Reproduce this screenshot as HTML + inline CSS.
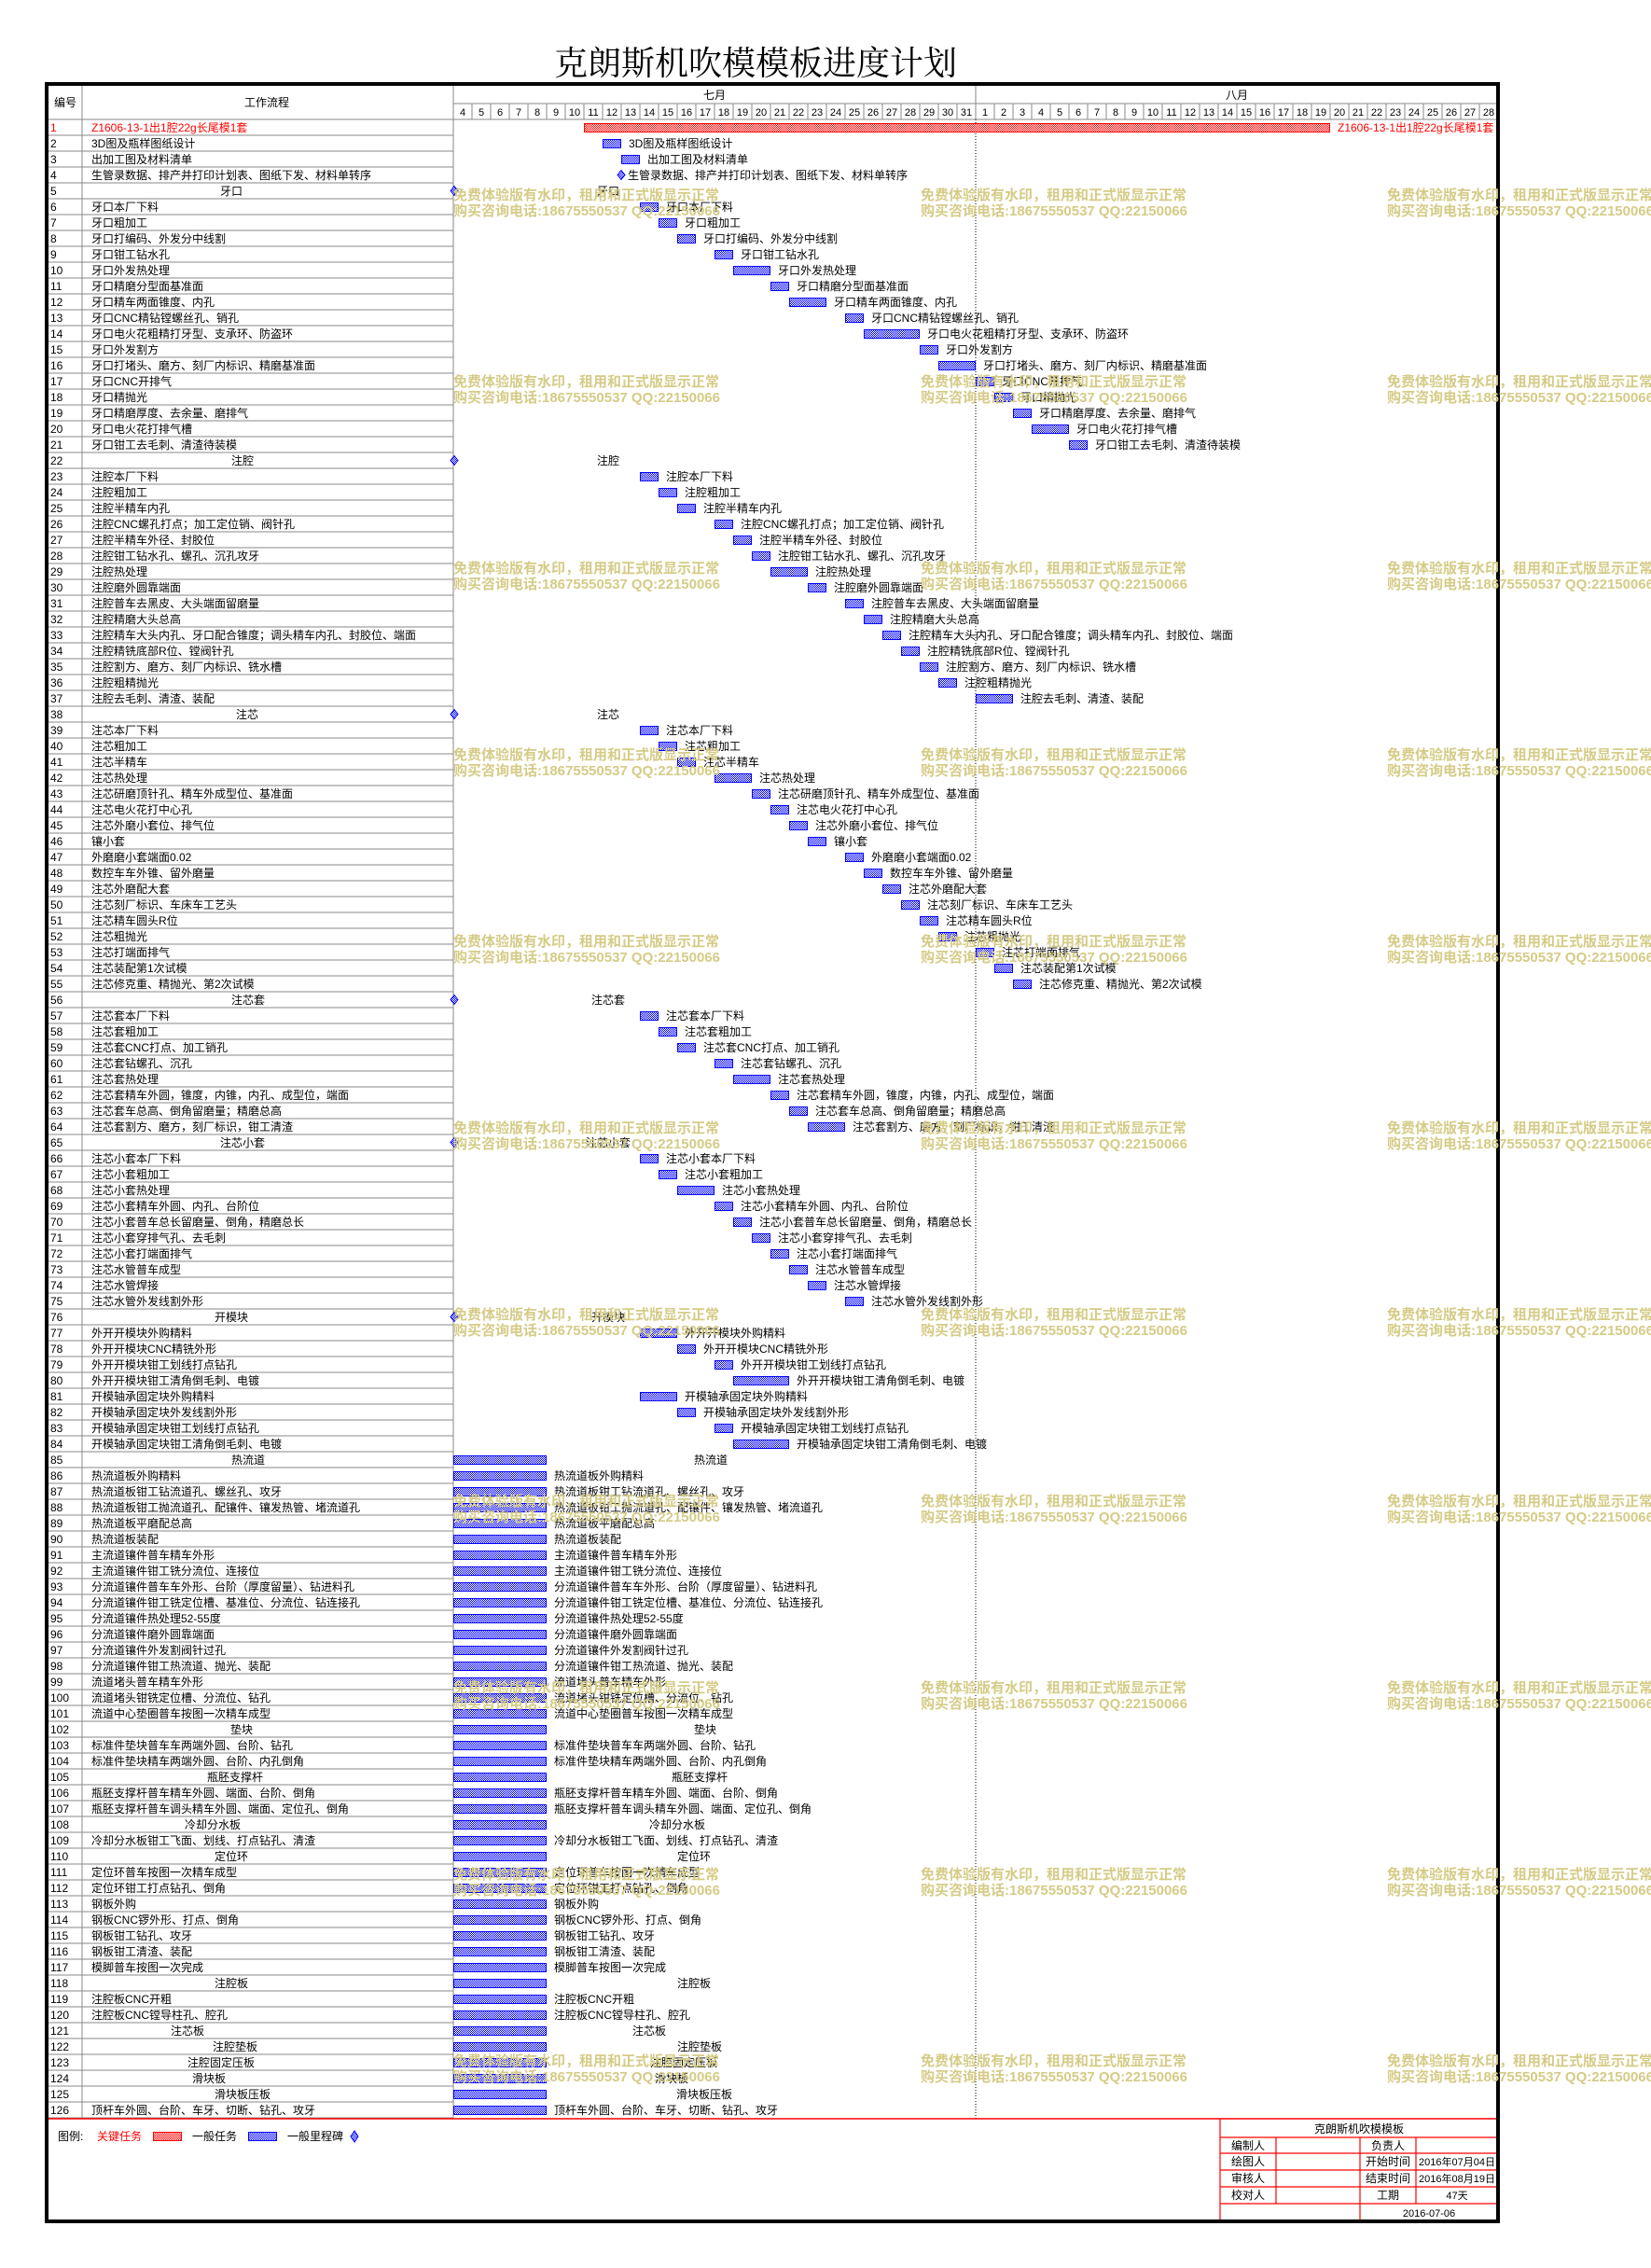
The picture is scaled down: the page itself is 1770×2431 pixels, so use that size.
<!DOCTYPE html>
<html><head><meta charset="utf-8">
<style>
html,body{margin:0;padding:0;background:#fff;}
svg{display:block;}
text{font-family:"Liberation Sans","Noto Sans CJK SC",sans-serif;}
</style></head>
<body>
<svg id="chart" width="1770" height="2431" viewBox="0 0 1770 2431" xmlns="http://www.w3.org/2000/svg">
<defs>
<pattern id="pb" width="2" height="2" patternUnits="userSpaceOnUse"><rect width="2" height="2" fill="#fff"/><rect width="1" height="1" fill="#0000ff"/><rect x="1" y="1" width="1" height="1" fill="#0000ff"/></pattern>
<pattern id="pr" width="2" height="2" patternUnits="userSpaceOnUse"><rect width="2" height="2" fill="#fff"/><rect width="1" height="1" fill="#ff0000"/><rect x="1" y="1" width="1" height="1" fill="#ff0000"/></pattern>
</defs>
<text x="810" y="80" text-anchor="middle" font-size="36" style="font-family:'Liberation Serif','Noto Serif CJK SC',serif">克朗斯机吹模模板进度计划</text>
<g id="g"></g>
</svg>
<script>
const taskNames = ["Z1606-13-1出1腔22g长尾模1套","3D图及瓶样图纸设计","出加工图及材料清单","生管录数据、排产并打印计划表、图纸下发、材料单转序","牙口","牙口本厂下料","牙口粗加工","牙口打编码、外发分中线割","牙口钳工钻水孔","牙口外发热处理","牙口精磨分型面基准面","牙口精车两面锥度、内孔","牙口CNC精钻镗螺丝孔、销孔","牙口电火花粗精打牙型、支承环、防盗环","牙口外发割方","牙口打堵头、磨方、刻厂内标识、精磨基准面","牙口CNC开排气","牙口精抛光","牙口精磨厚度、去余量、磨排气","牙口电火花打排气槽","牙口钳工去毛刺、清渣待装模","注腔","注腔本厂下料","注腔粗加工","注腔半精车内孔","注腔CNC螺孔打点；加工定位销、阀针孔","注腔半精车外径、封胶位","注腔钳工钻水孔、螺孔、沉孔攻牙","注腔热处理","注腔磨外圆靠端面","注腔普车去黑皮、大头端面留磨量","注腔精磨大头总高","注腔精车大头内孔、牙口配合锥度；调头精车内孔、封胶位、端面","注腔精铣底部R位、镗阀针孔","注腔割方、磨方、刻厂内标识、铣水槽","注腔粗精抛光","注腔去毛刺、清渣、装配","注芯","注芯本厂下料","注芯粗加工","注芯半精车","注芯热处理","注芯研磨顶针孔、精车外成型位、基准面","注芯电火花打中心孔","注芯外磨小套位、排气位","镶小套","外磨磨小套端面0.02","数控车车外锥、留外磨量","注芯外磨配大套","注芯刻厂标识、车床车工艺头","注芯精车圆头R位","注芯粗抛光","注芯打端面排气","注芯装配第1次试模","注芯修克重、精抛光、第2次试模","注芯套","注芯套本厂下料","注芯套粗加工","注芯套CNC打点、加工销孔","注芯套钻螺孔、沉孔","注芯套热处理","注芯套精车外圆，锥度，内锥，内孔、成型位，端面","注芯套车总高、倒角留磨量；精磨总高","注芯套割方、磨方，刻厂标识，钳工清渣","注芯小套","注芯小套本厂下料","注芯小套粗加工","注芯小套热处理","注芯小套精车外圆、内孔、台阶位","注芯小套普车总长留磨量、倒角，精磨总长","注芯小套穿排气孔、去毛刺","注芯小套打端面排气","注芯水管普车成型","注芯水管焊接","注芯水管外发线割外形","开模块","外开开模块外购精料","外开开模块CNC精铣外形","外开开模块钳工划线打点钻孔","外开开模块钳工清角倒毛刺、电镀","开模轴承固定块外购精料","开模轴承固定块外发线割外形","开模轴承固定块钳工划线打点钻孔","开模轴承固定块钳工清角倒毛刺、电镀","热流道","热流道板外购精料","热流道板钳工钻流道孔、螺丝孔、攻牙","热流道板钳工抛流道孔、配镶件、镶发热管、堵流道孔","热流道板平磨配总高","热流道板装配","主流道镶件普车精车外形","主流道镶件钳工铣分流位、连接位","分流道镶件普车车外形、台阶（厚度留量）、钻进料孔","分流道镶件钳工铣定位槽、基准位、分流位、钻连接孔","分流道镶件热处理52-55度","分流道镶件磨外圆靠端面","分流道镶件外发割阀针过孔","分流道镶件钳工热流道、抛光、装配","流道堵头普车精车外形","流道堵头钳铣定位槽、分流位、钻孔","流道中心垫圈普车按图一次精车成型","垫块","标准件垫块普车车两端外圆、台阶、钻孔","标准件垫块精车两端外圆、台阶、内孔倒角","瓶胚支撑杆","瓶胚支撑杆普车精车外圆、端面、台阶、倒角","瓶胚支撑杆普车调头精车外圆、端面、定位孔、倒角","冷却分水板","冷却分水板钳工飞面、划线、打点钻孔、清渣","定位环","定位环普车按图一次精车成型","定位环钳工打点钻孔、倒角","钢板外购","钢板CNC锣外形、打点、倒角","钢板钳工钻孔、攻牙","钢板钳工清渣、装配","模脚普车按图一次完成","注腔板","注腔板CNC开粗","注腔板CNC镗导柱孔、腔孔","注芯板","注腔垫板","注腔固定压板","滑块板","滑块板压板","顶杆车外圆、台阶、车牙、切断、钻孔、攻牙"];
// start day index (0 = July 4) and duration in days
const taskStarts = [7,8,9,9,0,10,11,12,14,15,17,18,21,22,25,26,28,29,30,31,33,0,10,11,12,14,15,16,17,19,21,22,23,24,25,26,28,0,10,11,12,14,16,17,18,19,21,22,23,24,25,26,28,29,30,0,10,11,12,14,15,17,18,19,0,10,11,12,14,15,16,17,18,19,21,0,10,12,14,15,10,12,14,15,0,0,0,0,0,0,0,0,0,0,0,0,0,0,0,0,0,0,0,0,0,0,0,0,0,0,0,0,0,0,0,0,0,0,0,0,0,0,0,0,0,0];
const taskDurations = [40,1,1,0,0,1,1,1,1,2,1,2,1,3,1,2,1,1,1,2,1,0,1,1,1,1,1,1,2,1,1,1,1,1,1,1,2,0,1,1,1,2,1,1,1,1,1,1,1,1,1,1,1,1,1,0,1,1,1,1,2,1,1,2,0,1,1,2,1,1,1,1,1,1,1,0,2,1,1,3,2,1,1,3,5,5,5,5,5,5,5,5,5,5,5,5,5,5,5,5,5,5,5,5,5,5,5,5,5,5,5,5,5,5,5,5,5,5,5,5,5,5,5,5,5,5];
const criticalRows = [1];
const labelledMilestoneRows = [4];
const sectionMilestoneRows = [5,22,38,56,65,76];
const sectionBarRows = [85,102,105,108,110,118,121,122,123,124,125];
const julyDays = [4,5,6,7,8,9,10,11,12,13,14,15,16,17,18,19,20,21,22,23,24,25,26,27,28,29,30,31];
const augDays = [1,2,3,4,5,6,7,8,9,10,11,12,13,14,15,16,17,18,19,20,21,22,23,24,25,26,27,28];
const monthLabels = ["七月","八月"];
const leftCentre = {5:248,22:260,38:265,56:266,65:260,76:248,85:266,102:259,105:252,108:228,110:248,118:248,121:201,122:252,123:237,124:224,125:260};
const ganttCentre = {85:762,102:756,105:750,108:726,110:744,118:744,121:696,122:750,123:733,124:720,125:755};

const NS="http://www.w3.org/2000/svg";
const G=document.getElementById('g');
const X0=486, DAY=20, Y0=128, RH=17;
const xs=d=>X0+d*DAY;
const ys=i=>Y0+i*RH;
function el(tag,a,parent){const e=document.createElementNS(NS,tag);for(const k in a)e.setAttribute(k,a[k]);(parent||G).appendChild(e);return e;}
function tx(x,y,s,a){const e=el('text',Object.assign({x:x,y:y,'font-size':12,fill:'#000'},a||{}));e.textContent=s;return e;}
function kindOf(r){
  if(criticalRows.includes(r))return 'c';
  if(labelledMilestoneRows.includes(r))return 'm';
  if(sectionMilestoneRows.includes(r))return 's';
  if(sectionBarRows.includes(r))return 'h';
  return 't';
}

let e;
e=tx(70,114,"编号",{'text-anchor':'middle'});


e=tx(286,114,"工作流程",{'text-anchor':'middle'});


el('line',{x1:X0,y1:111,x2:1606,y2:111,stroke:'#888'});
el('line',{x1:50,y1:128,x2:1606,y2:128,stroke:'#888'});
el('line',{x1:88,y1:90,x2:88,y2:2271,stroke:'#888'});
el('line',{x1:X0,y1:90,x2:X0,y2:2271,stroke:'#888'});
monthLabels.forEach((m,k)=>{
  e=tx(xs(k*28+14),106,m,{'text-anchor':'middle'});
  
  
});
el('line',{x1:xs(28),y1:90,x2:xs(28),y2:111,stroke:'#888'});
const allDays=julyDays.concat(augDays);
allDays.forEach((d,k)=>{
  el('line',{x1:xs(k+1),y1:111,x2:xs(k+1),y2:128,stroke:'#888'});
  e=tx(xs(k)+DAY/2,124,String(d),{'text-anchor':'middle','font-size':11});
  
  
});
el('line',{x1:xs(28),y1:128,x2:xs(28),y2:2271,stroke:'#000','stroke-dasharray':'1,2'});

taskNames.forEach((name,i)=>{
  const r=i+1, y=ys(i), k=kindOf(r), s=taskStarts[i], d=taskDurations[i];
  el('line',{x1:50,y1:y+RH,x2:X0,y2:y+RH,stroke:'#888'});
  e=tx(54,y+13,String(r),{fill:k==='c'?'#f00':'#000'});
  
  
  if(leftCentre[r]!==undefined){
    e=tx(leftCentre[r],y+13,name,{'text-anchor':'middle'});
  } else {
    e=tx(98,y+13,name,{fill:k==='c'?'#f00':'#000'});
  }
  
  
  if(k==='c'||k==='t'||k==='h'){
    const b=el('rect',{x:xs(s)+0.5,y:y+4.5,width:d*DAY-1,height:9,fill:k==='c'?'url(#pr)':'url(#pb)',stroke:k==='c'?'#f00':'#00f','stroke-width':1});
    
    
    if(k==='h'){
      e=tx(ganttCentre[r],y+13,name,{'text-anchor':'middle'});
    } else {
      e=tx(xs(s+d)+8,y+13,name,{fill:k==='c'?'#f00':'#000'});
    }
    
    
  } else {
    const cx=xs(s)+(k==='m'?0:1), cy=y+8.5;
    const dm=el('polygon',{points:`${cx},${cy-5} ${cx+4},${cy} ${cx},${cy+5} ${cx-4},${cy}`,fill:'url(#pb)',stroke:'#00f'});
    
    
    if(k==='m'){ e=tx(cx+7,y+13,name); }
    else { e=tx(652,y+13,name,{'text-anchor':'middle'}); }
    
    
  }
});

el('line',{x1:50,y1:2271,x2:1606,y2:2271,stroke:'#f00','stroke-width':1.5});

e=tx(62,2294,"图例:");  
e=tx(104,2294,"关键任务",{fill:'#f00'});  
e=el('rect',{x:164.5,y:2285.5,width:30,height:9,fill:'url(#pr)',stroke:'#f00'});  
e=tx(206,2294,"一般任务");  
e=el('rect',{x:266.5,y:2285.5,width:30,height:9,fill:'url(#pb)',stroke:'#00f'});  
e=tx(308,2294,"一般里程碑");  
e=el('polygon',{points:"380,2284 384,2290 380,2296 376,2290",fill:'url(#pb)',stroke:'#00f'});  

const red={stroke:'#f00','stroke-width':1.2};
const tyy=[2272,2291,2308,2326,2344,2362,2381];
el('line',Object.assign({x1:1308,y1:2271,x2:1308,y2:2381},red));
tyy.slice(1,6).forEach(v=>el('line',Object.assign({x1:1308,y1:v,x2:1606,y2:v},red)));
el('line',Object.assign({x1:1368,y1:2291,x2:1368,y2:2362},red));
el('line',Object.assign({x1:1458,y1:2291,x2:1458,y2:2381},red));
el('line',Object.assign({x1:1518,y1:2291,x2:1518,y2:2362},red));
e=tx(1457,2286,"克朗斯机吹模模板",{'text-anchor':'middle'});  
const infoL=["编制人","绘图人","审核人","校对人"], infoM=["负责人","开始时间","结束时间","工期"], infoR=["","2016年07月04日","2016年08月19日","47天"];
infoL.forEach((t,k)=>{const yy=tyy[k+1]+13;
  e=tx(1338,yy,t,{'text-anchor':'middle'});  
  e=tx(1488,yy,infoM[k],{'text-anchor':'middle'});  
  e=tx(1562,yy,infoR[k],{'text-anchor':'middle','font-size':11});  
});
e=tx(1532,2376,"2016-07-06",{'text-anchor':'middle','font-size':11});  

e=el('rect',{x:50,y:90,width:1556,height:2291,fill:'none',stroke:'#000','stroke-width':4});



for(let k=0;k<11;k++){
  [486,987,1487].forEach(wx=>{
    const wy=209+k*200;
    e=tx(wx,wy+5,"免费体验版有水印，租用和正式版显示正常",{fill:'#d5cb86','font-size':15,'font-weight':'bold'});
    
    
    e=tx(wx,wy+22,"购买咨询电话:18675550537 QQ:22150066",{fill:'#d5cb86','font-size':15,'font-weight':'bold'});
    
    
  });
}
</script>
</body></html>
